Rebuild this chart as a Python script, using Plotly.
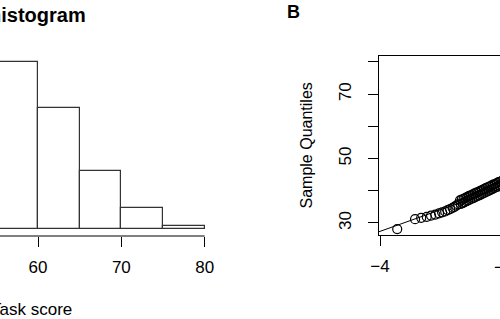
import plotly.graph_objects as go

# ---- Data ----
# Histogram (panel A, visible part)
bin_left_edges = [55, 60, 65, 70, 75]
bin_width = 5
bin_counts = [1670, 1210, 580, 210, 30]
hist_xticks = [50, 60, 70, 80]

# QQ plot (panel B, visible part)
theoretical_q = [-3.72, -3.43, -3.33, -3.24, -3.17, -3.10, -3.04, -2.99, -2.94,
                 -2.90, -2.86, -2.82, -2.79, -2.76, -2.73,
                 -2.700, -2.685, -2.670, -2.655, -2.640, -2.625, -2.610, -2.595,
                 -2.580, -2.565, -2.550, -2.535, -2.520, -2.505, -2.490, -2.475,
                 -2.460, -2.445, -2.430, -2.415, -2.400, -2.385, -2.370, -2.355,
                 -2.340, -2.325, -2.310, -2.295, -2.280, -2.265, -2.250, -2.235,
                 -2.220, -2.205, -2.190, -2.175, -2.160, -2.145, -2.130, -2.115,
                 -2.100, -2.085, -2.070, -2.055, -2.040, -2.025, -2.010, -1.995,
                 -1.980, -1.965, -1.950]
sample_q = [28.1, 31.2, 31.6, 31.9, 32.3, 32.6, 33.0, 33.3, 33.6,
            34.0, 34.3, 34.7, 35.0, 35.4, 35.8,
            37.0, 35.9, 37.3, 36.2, 37.5, 36.5, 37.8, 36.8,
            38.1, 37.0, 38.4, 37.3, 38.6, 37.6, 38.9, 37.8,
            39.2, 38.1, 39.4, 38.4, 39.7, 38.6, 40.0, 38.9,
            40.2, 39.2, 40.5, 39.4, 40.8, 39.7, 41.1, 40.0,
            41.3, 40.3, 41.6, 40.5, 41.9, 40.8, 42.1, 41.1,
            42.4, 41.3, 42.7, 41.6, 42.9, 41.9, 43.2, 42.2,
            43.5, 42.4, 43.8]
qqline_intercept = 54.6
qqline_slope = 6.8
qq_yticks = [30, 40, 50, 60, 70, 80]
qq_yticklabels = ["30", "", "50", "", "70", ""]
qq_xticks = [-4, -2]

FONT = "Liberation Sans, Arial, sans-serif"
W, H = 500, 319

def px_x(p):
    return p / W

def px_y(p):
    return 1 - p / H

hx_range = [55.44, 85.44]
qx_range = [-4 - 1 / 61.5, -4 - 1 / 61.5 + 121 / 61.5]
qy_range = [26.27, 81.86]

fig = go.Figure()

centers = [e + bin_width / 2 for e in bin_left_edges]
fig.add_trace(go.Bar(
    x=centers, y=bin_counts, width=bin_width,
    marker=dict(color="white", line=dict(color="#333333", width=1.2)),
    xaxis="x", yaxis="y", showlegend=False, hoverinfo="skip"))

fig.add_trace(go.Scatter(
    x=qx_range, y=[qqline_intercept + qqline_slope * v for v in qx_range],
    mode="lines", line=dict(color="black", width=1),
    xaxis="x2", yaxis="y2", showlegend=False, hoverinfo="skip"))

fig.add_trace(go.Scatter(
    x=theoretical_q, y=sample_q, mode="markers",
    marker=dict(symbol="circle-open", size=9, color="black",
                line=dict(color="black", width=1.2)),
    xaxis="x2", yaxis="y2", showlegend=False, cliponaxis=True))

axis_font = dict(family=FONT, size=17, color="black")

fig.update_layout(
    template="none",
    width=W, height=H,
    margin=dict(l=0, r=0, t=0, b=0, pad=0, autoexpand=False),
    paper_bgcolor="white", plot_bgcolor="white",
    font=dict(family=FONT, color="black"),
    bargap=0,
    xaxis=dict(domain=[0, 0.5], range=hx_range, tickvals=hist_xticks,
               ticks="outside", ticklen=10, tickwidth=1, tickcolor="black",
               showline=False, showgrid=False, zeroline=False, automargin=False,
               tickfont=axis_font, ticklabelstandoff=6, anchor="y"),
    yaxis=dict(domain=[px_y(236), px_y(50)], range=[-70, 1790], visible=False,
               automargin=False, anchor="x"),
    xaxis2=dict(domain=[379 / W, 1], range=qx_range, tickvals=qq_xticks,
                ticks="outside", ticklen=10, tickwidth=1, tickcolor="black",
                showline=True, linecolor="black", linewidth=1, mirror=True,
                showgrid=False, zeroline=False, tickfont=axis_font,
                automargin=False, ticklabelstandoff=6, anchor="y2"),
    yaxis2=dict(domain=[px_y(235), px_y(56)], range=qy_range,
                tickvals=qq_yticks, ticktext=qq_yticklabels, tickangle=-90,
                ticks="outside", ticklen=10, tickwidth=1, tickcolor="black",
                showline=True, linecolor="black", linewidth=1, mirror=False,
                showgrid=False, zeroline=False, tickfont=axis_font,
                automargin=False, ticklabelstandoff=10, anchor="x2"),
)

# R-style x axis line for histogram (from first tick to last tick)
fig.add_shape(type="line", xref="x", yref="paper",
              x0=hx_range[0], x1=hist_xticks[-1], y0=px_y(236), y1=px_y(236),
              line=dict(color="black", width=1))

fig.add_annotation(text="<b>histogram</b>", xref="paper", yref="paper",
                   x=px_x(88), y=px_y(15), xanchor="right", yanchor="middle",
                   showarrow=False, font=dict(family=FONT, size=20, color="black"))
fig.add_annotation(text="Task score", xref="paper", yref="paper",
                   x=px_x(31.5), y=px_y(309), xanchor="center", yanchor="middle",
                   showarrow=False, font=axis_font)
fig.add_annotation(text="<b>B</b>", xref="paper", yref="paper",
                   x=px_x(293), y=px_y(11.5), xanchor="center", yanchor="middle",
                   showarrow=False, font=dict(family=FONT, size=18, color="black"))
fig.add_annotation(text="Sample Quantiles", xref="paper", yref="paper",
                   x=px_x(306), y=px_y(145.5), xanchor="center", yanchor="middle",
                   textangle=-90, showarrow=False,
                   font=dict(family=FONT, size=16, color="black"))
fig.add_annotation(text="\u22122", xref="paper", yref="paper",
                   x=px_x(503), y=px_y(267), xanchor="center", yanchor="middle",
                   showarrow=False, font=axis_font)

fig.write_html(
    "out.html",
    config={"responsive": False, "displayModeBar": False},
    post_script=(
        "document.documentElement.style.margin='0';"
        "document.documentElement.style.overflow='hidden';"
        "document.body.style.margin='0';"
        "document.body.style.padding='0';"
        "document.body.style.overflow='hidden';"
    ),
)
